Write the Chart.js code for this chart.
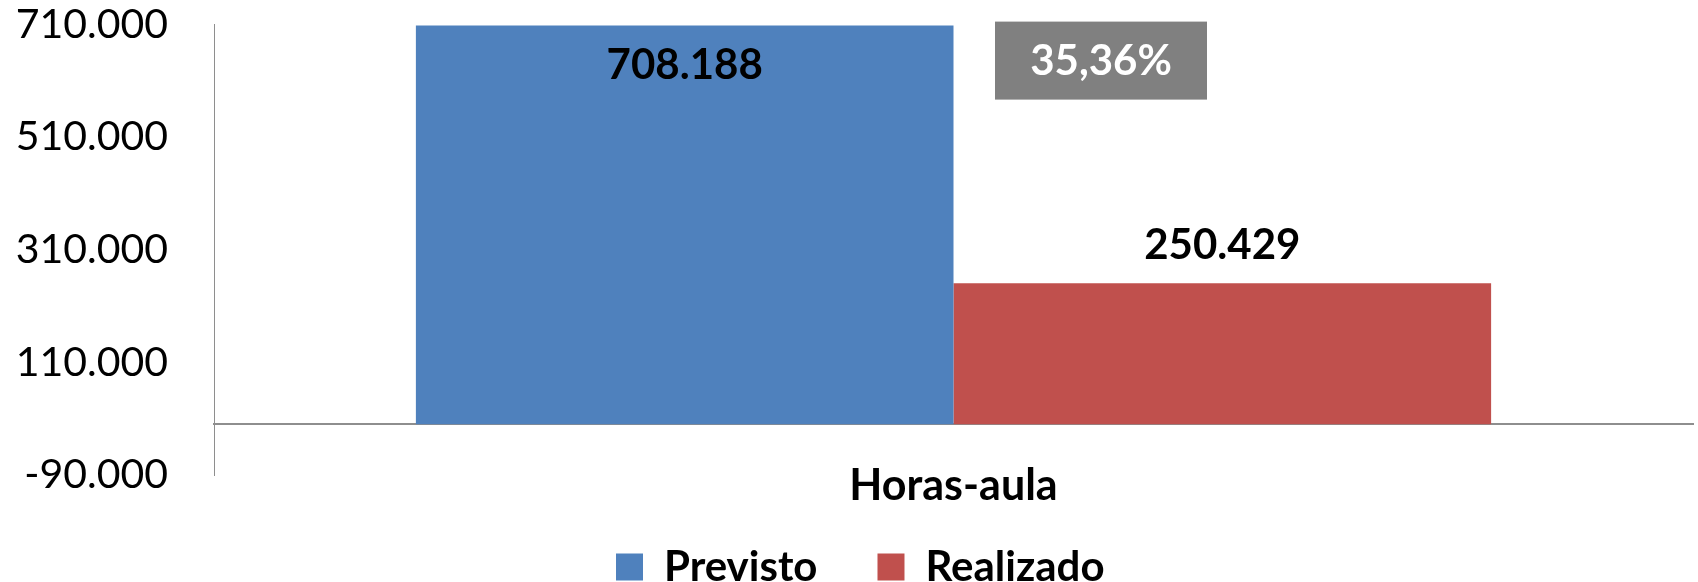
<!DOCTYPE html>
<html>
<head>
<meta charset="utf-8">
<script src="https://cdn.jsdelivr.net/npm/chart.js@4"></script>
<style>
  body { margin: 0; background: #fff; }
  #wrap { width: 1698px; height: 582px; }
</style>
</head>
<body>
<div id="wrap"><canvas id="chart"></canvas></div>
<script>
const categories = ['Horas-aula'];
const seriesNames = ['Previsto', 'Realizado'];
const previsto = [708188];
const realizado = [250429];
const yTicks = [-90000, 110000, 310000, 510000, 710000];
const colors = ['#4F81BD', '#C0504D'];

const fmt = v => (v < 0 ? '-' : '') + String(Math.abs(v)).replace(/\B(?=(\d{3})+(?!\d))/g, '.');
const pct = (realizado[0] / previsto[0] * 100).toFixed(2).replace('.', ',') + '%';

// value labels + the grey percentage box
const barLabels = {
  id: 'barLabels',
  afterLayout(chart) {
    // nudge the legend a little to the right, like the original
    const lg = chart.legend;
    const pad = lg.options.labels.padding;
    const start = (lg.left + pad + lg.right - lg.lineWidths[0]) / 2;
    const dx = 616 - start;
    lg.left += dx;
    lg.right += dx;
  },
  afterDatasetsDraw(chart) {
    const ctx = chart.ctx;
    ctx.save();
    ctx.font = 'bold 42px Lato';
    ctx.fillStyle = '#000';
    ctx.textAlign = 'center';
    ctx.textBaseline = 'middle';
    chart.data.datasets.forEach((ds, i) => {
      chart.getDatasetMeta(i).data.forEach((bar, j) => {
        const y = i === 0 ? bar.y + 40 : bar.y - 38;
        ctx.fillText(fmt(ds.data[j]), bar.x, y);
      });
    });
    const area = chart.chartArea;
    const bx = area.left + 781, by = area.top - 3;
    ctx.fillStyle = '#808080';
    ctx.fillRect(bx, by, 212, 78);
    ctx.fillStyle = '#fff';
    ctx.fillText(pct, bx + 106, by + 40);
    ctx.restore();
  }
};

new Chart(document.getElementById('chart'), {
  type: 'bar',
  data: {
    labels: categories,
    datasets: [
      { label: seriesNames[0], data: previsto, backgroundColor: colors[0] },
      { label: seriesNames[1], data: realizado, backgroundColor: colors[1] }
    ]
  },
  options: {
    responsive: true,
    maintainAspectRatio: false,
    animation: false,
    categoryPercentage: 0.727,
    barPercentage: 1,
    layout: { padding: { left: 0, right: 5, top: 0, bottom: 0 } },
    scales: {
      x: {
        grid: { display: false, drawTicks: false },
        border: { display: false },
        ticks: { color: '#000', mirror: true, font: { family: 'Lato', size: 43, weight: 'bold' }, padding: -37 },
        afterFit: s => { s.height = 11; }
      },
      // zero line
      x2: {
        type: 'category',
        position: { y: 0 },
        grid: { display: false },
        ticks: { display: false },
        border: { display: true, color: '#8e8e8e', width: 2 }
      },
      y: {
        min: yTicks[0],
        max: yTicks[yTicks.length - 1],
        ticks: {
          stepSize: yTicks[1] - yTicks[0],
          color: '#000',
          padding: 0,
          font: { family: 'Lato', size: 41 },
          callback: v => fmt(v)
        },
        grid: {
          drawTicks: true,
          tickLength: 46,
          color: 'rgba(0,0,0,0)',
          tickColor: 'rgba(0,0,0,0)'
        },
        border: { display: true, color: '#8e8e8e', width: 1 },
        afterFit: s => { s.width = 214; }
      }
    },
    plugins: {
      legend: {
        position: 'bottom',
        maxHeight: 96,
        labels: {
          boxWidth: 27,
          boxHeight: 27,
          padding: 60,
          color: '#000',
          font: { family: 'Lato', size: 42, weight: 'bold' }
        }
      },
      tooltip: { enabled: false }
    }
  },
  plugins: [barLabels]
});
</script>
</body>
</html>
